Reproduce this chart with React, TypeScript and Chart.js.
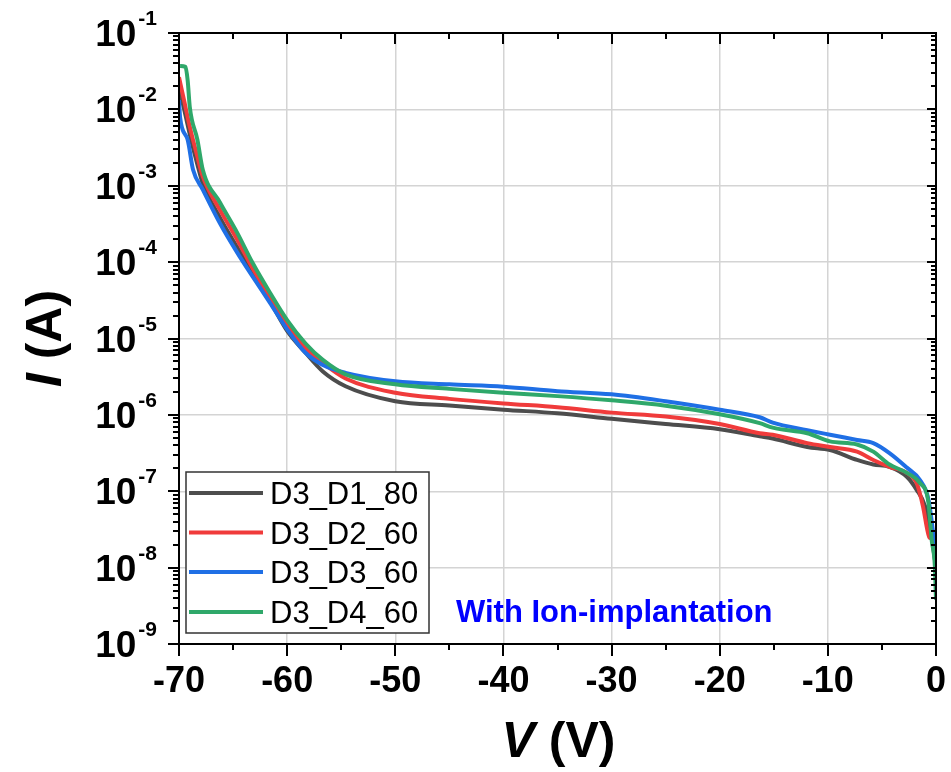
import React, { useEffect, useRef } from "react";
import { Chart, registerables } from "chart.js";

Chart.register(...registerables);

const FONT = '"Liberation Sans", Arial, Helvetica, sans-serif';

// Series: D3_D1_80 (gray)
const V_D1 = [-70, -69.6, -69.0, -68.3, -67.8, -66.2, -64.6, -63.2, -61.6, -60.0, -58.3, -56.7, -54.6, -50, -45, -40, -35, -30, -25, -20, -16.3, -15.1, -11.9, -9.8, -7.3, -5.8, -4.3, -2.7, -1.8, -1.0, -0.4, -0.1];
const I_D1 = [2.0e-2, 1.12e-2, 4.7e-3, 1.9e-3, 1.07e-3, 3.8e-4, 1.55e-4, 7.1e-5, 3.1e-5, 1.26e-5, 6.5e-6, 3.7e-6, 2.37e-6, 1.51e-6, 1.33e-6, 1.17e-6, 1.05e-6, 8.9e-7, 7.6e-7, 6.5e-7, 5.25e-7, 4.9e-7, 3.8e-7, 3.47e-7, 2.57e-7, 2.24e-7, 2.09e-7, 1.55e-7, 1.05e-7, 6.3e-8, 2.5e-8, 1.26e-8];

// Series: D3_D2_60 (red)
const V_D2 = [-70.0, -69.6, -69.0, -68.3, -67.8, -66.2, -64.6, -63.2, -61.6, -60.0, -58.3, -56.7, -54.6, -50, -45, -40, -35, -30, -25, -20, -16.3, -15.1, -11.9, -9.8, -7.3, -5.8, -4.3, -2.7, -1.8, -1.2, -0.8, -0.6, 0];
const I_D2 = [2.63e-2, 1.45e-2, 5.9e-3, 2.4e-3, 1.32e-3, 4.8e-4, 1.95e-4, 8.3e-5, 3.47e-5, 1.51e-5, 7.4e-6, 4.8e-6, 3.0e-6, 1.95e-6, 1.62e-6, 1.41e-6, 1.26e-6, 1.07e-6, 9.5e-7, 7.6e-7, 5.75e-7, 5.5e-7, 4.27e-7, 3.8e-7, 3.3e-7, 2.57e-7, 2.09e-7, 1.74e-7, 1.29e-7, 6.3e-8, 3.1e-8, 2.45e-8, 2.4e-8];

// Series: D3_D3_60 (blue)
const V_D3 = [-70.0, -69.9, -69.2, -68.7, -67.8, -66.2, -64.6, -63.2, -61.6, -60.0, -58.3, -56.7, -54.6, -50, -45, -40, -35, -30, -25, -20, -16.3, -15.1, -11.9, -9.8, -7.3, -5.8, -4.3, -2.7, -1.5, -0.7, -0.3, 0];
const I_D3 = [1.32e-2, 7.9e-3, 4.0e-3, 1.62e-3, 8.9e-4, 3.2e-4, 1.32e-4, 6.5e-5, 2.95e-5, 1.32e-5, 6.5e-6, 4.5e-6, 3.55e-6, 2.75e-6, 2.51e-6, 2.34e-6, 2.04e-6, 1.86e-6, 1.51e-6, 1.17e-6, 9.3e-7, 7.9e-7, 6.3e-7, 5.5e-7, 4.7e-7, 4.27e-7, 3.16e-7, 2.04e-7, 1.41e-7, 7.8e-8, 3.1e-8, 1.15e-8];

// Series: D3_D4_60 (green)
const V_D4 = [-69.9, -69.4, -69.2, -69.0, -68.3, -67.8, -66.2, -64.6, -63.2, -61.6, -60.0, -58.3, -56.7, -54.6, -50, -45, -40, -35, -30, -25, -20, -16.3, -15.1, -11.9, -9.8, -7.3, -5.8, -4.3, -2.7, -1.5, -0.7, -0.4, -0.1, 0];
const I_D4 = [3.7e-2, 3.6e-2, 2.4e-2, 1.07e-2, 4.0e-3, 1.62e-3, 6.0e-4, 2.4e-4, 9.8e-5, 4.0e-5, 1.74e-5, 8.6e-6, 5.25e-6, 3.4e-6, 2.51e-6, 2.19e-6, 1.95e-6, 1.76e-6, 1.55e-6, 1.32e-6, 1.02e-6, 7.8e-7, 6.8e-7, 5.75e-7, 4.5e-7, 4.1e-7, 3.3e-7, 2.24e-7, 1.74e-7, 1.29e-7, 7.1e-8, 2.3e-8, 1.02e-8, 3.8e-9];

const SERIES_NAMES = ["D3_D1_80", "D3_D2_60", "D3_D3_60", "D3_D4_60"];
const SERIES_COLORS = ["#4d4d4d", "#f03b3b", "#1f6fe5", "#2fa86a"];
const X_TICKS = [-70, -60, -50, -40, -30, -20, -10, 0];
const Y_EXPONENTS = [-1, -2, -3, -4, -5, -6, -7, -8, -9];
const X_TITLE = ["V", " (V)"];
const Y_TITLE = ["I", " (A)"];
const NOTE = "With Ion-implantation";

const toPoints = (vs: number[], is: number[]) => vs.map((v, i) => ({ x: v, y: is[i] }));

const decorPlugin = {
  id: "decor",
  afterDraw(chart: any) {
    const { ctx, chartArea } = chart;
    const { left, right, top, bottom } = chartArea;
    const xs = chart.scales.x;
    const ys = chart.scales.y;
    ctx.save();
    ctx.strokeStyle = "#000";
    ctx.fillStyle = "#000";
    ctx.lineWidth = 2;
    ctx.lineCap = "butt";
    // frame
    ctx.strokeRect(left, top, right - left, bottom - top);
    // x ticks
    ctx.beginPath();
    for (let v = -70; v <= 0; v += 5) {
      const px = Math.round(xs.getPixelForValue(v));
      const major = v % 10 === 0;
      const len = major ? 12 : 6;
      ctx.moveTo(px, bottom);
      ctx.lineTo(px, bottom + len);
      ctx.moveTo(px, top);
      ctx.lineTo(px, top + (major ? 11 : 6));
    }
    // y ticks
    for (let d = -9; d <= -1; d++) {
      for (let m = 1; m <= 9; m++) {
        const val = m * Math.pow(10, d);
        const py = Math.round(ys.getPixelForValue(val));
        const len = m === 1 ? 11 : 6;
        ctx.moveTo(left - len, py);
        ctx.lineTo(left, py);
        ctx.moveTo(right - (m === 1 ? 9 : 5), py);
        ctx.lineTo(right, py);
        if (d === -1) break;
      }
    }
    ctx.stroke();

    // y tick labels 10^n
    ctx.textBaseline = "alphabetic";
    ctx.textAlign = "right";
    Y_EXPONENTS.forEach((e) => {
      const py = ys.getPixelForValue(Math.pow(10, e));
      const sup = String(e);
      ctx.font = `bold 21px ${FONT}`;
      const sw = ctx.measureText(sup).width;
      ctx.fillText(sup, 157, py - 8);
      ctx.font = `bold 37px ${FONT}`;
      ctx.fillText("10", 157 - sw - 2, py + 13);
    });

    // y title
    ctx.save();
    ctx.translate(61, (top + bottom) / 2);
    ctx.rotate(-Math.PI / 2);
    ctx.textAlign = "left";
    ctx.font = `italic bold 50px ${FONT}`;
    const w1 = ctx.measureText(Y_TITLE[0]).width;
    ctx.font = `bold 50px ${FONT}`;
    const w2 = ctx.measureText(Y_TITLE[1]).width;
    const sx = -(w1 + w2) / 2;
    ctx.font = `italic bold 50px ${FONT}`;
    ctx.fillText(Y_TITLE[0], sx, 0);
    ctx.font = `bold 50px ${FONT}`;
    ctx.fillText(Y_TITLE[1], sx + w1, 0);
    ctx.restore();

    // x title
    ctx.textAlign = "left";
    ctx.font = `italic bold 50px ${FONT}`;
    const xw1 = ctx.measureText(X_TITLE[0]).width;
    ctx.font = `bold 50px ${FONT}`;
    const xw2 = ctx.measureText(X_TITLE[1]).width;
    const cx = (left + right) / 2 + 1;
    const x0 = cx - (xw1 + xw2) / 2;
    ctx.font = `italic bold 50px ${FONT}`;
    ctx.fillText(X_TITLE[0], x0, 757);
    ctx.font = `bold 50px ${FONT}`;
    ctx.fillText(X_TITLE[1], x0 + xw1, 757);

    // legend
    const lx = 186, ly = 472, lw = 243, lh = 161;
    ctx.fillStyle = "#fff";
    ctx.fillRect(lx, ly, lw, lh);
    ctx.strokeStyle = "#333";
    ctx.lineWidth = 1.5;
    ctx.strokeRect(lx, ly, lw, lh);
    const rows = [493, 532.5, 572, 612];
    SERIES_NAMES.forEach((name, i) => {
      ctx.strokeStyle = SERIES_COLORS[i];
      ctx.lineWidth = 4;
      ctx.beginPath();
      ctx.moveTo(189, rows[i]);
      ctx.lineTo(263, rows[i]);
      ctx.stroke();
      ctx.fillStyle = "#000";
      ctx.font = `31px ${FONT}`;
      ctx.textAlign = "left";
      ctx.fillText(name, 270, rows[i] + 11);
    });

    // annotation
    ctx.fillStyle = "#0000ff";
    ctx.font = `bold 31px ${FONT}`;
    ctx.textAlign = "left";
    ctx.fillText(NOTE, 456, 622);
    ctx.restore();
  },
};

export default function App() {
  const ref = useRef<HTMLCanvasElement | null>(null);
  useEffect(() => {
    document.body.style.margin = "0";
    if (!ref.current) return;
    const seriesV = [V_D1, V_D2, V_D3, V_D4];
    const seriesI = [I_D1, I_D2, I_D3, I_D4];
    const chart = new Chart(ref.current, {
      type: "line",
      data: {
        datasets: SERIES_NAMES.map((name, i) => ({
          label: name,
          data: toPoints(seriesV[i], seriesI[i]),
          borderColor: SERIES_COLORS[i],
          backgroundColor: SERIES_COLORS[i],
          borderWidth: 4,
          pointRadius: 0,
          fill: false,
          cubicInterpolationMode: "monotone",
          order: 3 - i,
        })),
      },
      options: {
        responsive: false,
        animation: false,
        devicePixelRatio: 1,
        layout: { padding: { top: 33, right: 15, left: 0, bottom: 0 } },
        plugins: { legend: { display: false }, tooltip: { enabled: false } },
        scales: {
          x: {
            type: "linear",
            min: -70,
            max: 0,
            afterBuildTicks: (s: any) => {
              s.ticks = X_TICKS.map((v) => ({ value: v }));
            },
            afterFit: (s: any) => {
              s.height = 128;
              s.paddingLeft = 0;
              s.paddingRight = 0;
            },
            ticks: {
              color: "#000",
              font: { family: FONT, size: 36, weight: "bold" },
              padding: 16,
              maxRotation: 0,
              autoSkip: false,
            },
            grid: { color: "#d4d4d4", lineWidth: 1.5, drawTicks: false },
            border: { display: false },
          },
          y: {
            type: "logarithmic",
            min: 1e-9,
            max: 1e-1,
            afterBuildTicks: (s: any) => {
              s.ticks = Y_EXPONENTS.map((e) => ({ value: Math.pow(10, e) }));
            },
            afterFit: (s: any) => {
              s.width = 179;
              s.paddingTop = 0;
              s.paddingBottom = 0;
            },
            ticks: { display: false },
            grid: { color: "#d4d4d4", lineWidth: 1.5, drawTicks: false },
            border: { display: false },
          },
        },
      } as any,
      plugins: [decorPlugin],
    });
    return () => chart.destroy();
  }, []);
  return (
    <div style={{ width: 951, height: 772, background: "#fff" }}>
      <canvas ref={ref} width={951} height={772} style={{ display: "block" }} />
    </div>
  );
}
